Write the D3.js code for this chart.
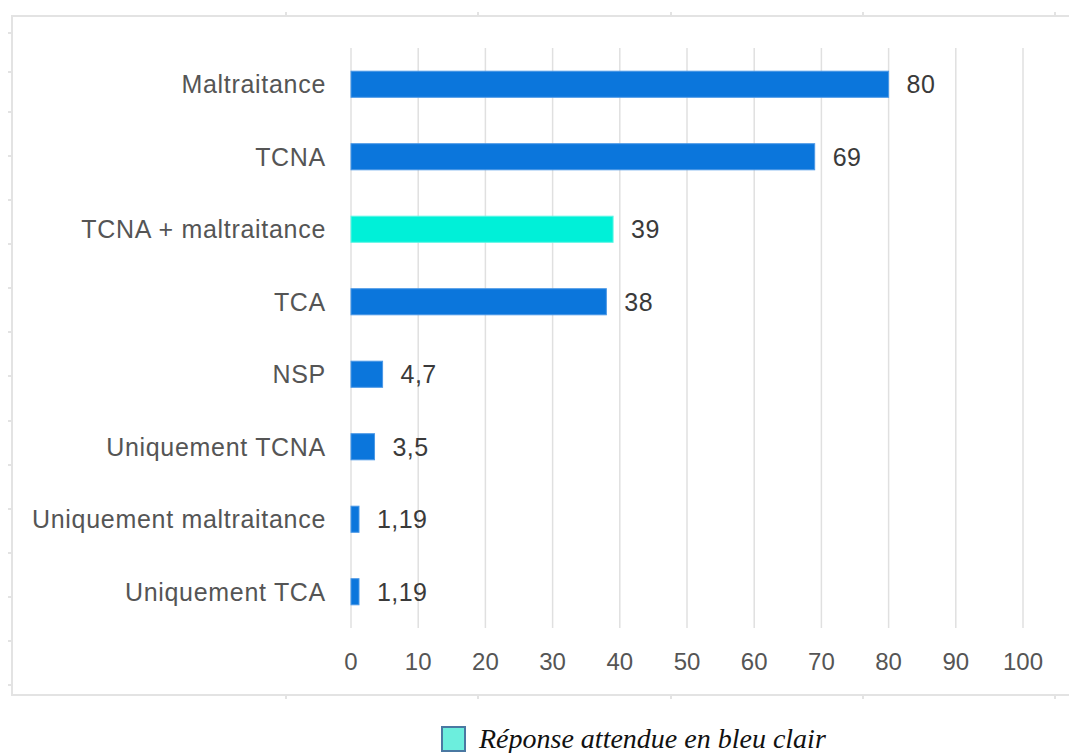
<!DOCTYPE html>
<html lang="fr">
<head>
<meta charset="UTF-8"/>
<title>Réponses</title>
<script src="https://cdn.jsdelivr.net/npm/d3@7"></script>
<style>
body { margin: 0; background: #fff; }
text { font-family: "Liberation Sans", Arial, sans-serif; fill: #555; }
.grid line { stroke: #e0e0e0; stroke-width: 1.5px; }
.frame { fill: none; stroke: #e3e3e3; stroke-width: 2px; }
</style>
</head>
<body>
<svg id="viz"></svg>
<script>
var width = 1069, height = 753;

// data
var categories = ["Maltraitance", "TCNA", "TCNA + maltraitance", "TCA", "NSP",
                  "Uniquement TCNA", "Uniquement maltraitance", "Uniquement TCA"];
var values = [80, 69, 39, 38, 4.7, 3.5, 1.19, 1.19];
var valueLabels = ["80", "69", "39", "38", "4,7", "3,5", "1,19", "1,19"];
var expected = ["TCNA + maltraitance"];
var xTicks = [0, 10, 20, 30, 40, 50, 60, 70, 80, 90, 100];
// little marks on the outer frame (pixel positions of the original screenshot frame)
var frameLeftTicks = [33, 72, 112, 156, 200, 244, 288, 332, 376, 421, 465, 509, 553, 597, 641, 685];
var frameTopTicks = [286, 478, 671, 863, 1055];
var frameBottomTicks = [286, 478, 671, 863, 1055];
var legendText = "Réponse attendue en bleu clair";

var svg = d3.select("#viz").attr("width", width).attr("height", height);

// outer frame
svg.append("path").attr("class", "frame")
	.attr("d", "M1069,16 H12 V695 H1069");
svg.selectAll(".fl").data(frameLeftTicks).enter().append("line")
	.attr("x1", 8).attr("x2", 12).attr("y1", d => d).attr("y2", d => d)
	.attr("stroke", "#e3e3e3").attr("stroke-width", 2);
svg.selectAll(".ft").data(frameTopTicks).enter().append("line")
	.attr("x1", d => d).attr("x2", d => d).attr("y1", 12).attr("y2", 16)
	.attr("stroke", "#e3e3e3").attr("stroke-width", 2);
svg.selectAll(".fb").data(frameBottomTicks).enter().append("line")
	.attr("x1", d => d).attr("x2", d => d).attr("y1", 695).attr("y2", 699)
	.attr("stroke", "#e3e3e3").attr("stroke-width", 2);

var x = d3.scaleLinear().domain([0, 100]).range([351, 1023]);
var y = d3.scaleBand().domain(categories).range([48, 628]).paddingInner(0.64).paddingOuter(0.32);

// gridlines
svg.append("g").attr("class", "grid")
	.selectAll("line").data(xTicks).enter().append("line")
	.attr("x1", d => x(d)).attr("x2", d => x(d))
	.attr("y1", 48).attr("y2", 628);

// x tick labels
svg.append("g").selectAll("text").data(xTicks).enter().append("text")
	.attr("x", d => x(d)).attr("y", 670)
	.attr("text-anchor", "middle")
	.style("font-size", "24px")
	.text(d => d);

// category labels
svg.append("g").selectAll("text").data(categories).enter().append("text")
	.attr("x", 326).attr("y", d => y(d) + y.bandwidth() / 2)
	.attr("dy", "0.36em")
	.attr("text-anchor", "end")
	.style("font-size", "25px")
	.style("letter-spacing", "0.7px")
	.text(d => d);

// bars
svg.append("g").selectAll("rect").data(categories).enter().append("rect")
	.attr("x", x(0))
	.attr("y", d => y(d))
	.attr("width", (d, i) => x(values[i]) - x(0))
	.attr("height", y.bandwidth())
	.attr("fill", d => expected.indexOf(d) >= 0 ? "#00f0d8" : "#0b76dc")
	.attr("stroke", d => expected.indexOf(d) >= 0 ? "#5ff5e4" : "#4b98e6")
	.attr("stroke-width", 1);

// value labels
svg.append("g").selectAll("text").data(categories).enter().append("text")
	.attr("x", (d, i) => x(values[i]) + 18)
	.attr("y", d => y(d) + y.bandwidth() / 2)
	.attr("dy", "0.36em")
	.style("font-size", "25px")
	.style("letter-spacing", "0.4px")
	.style("fill", "#3a3a3a")
	.text((d, i) => valueLabels[i]);

// legend
svg.append("rect")
	.attr("x", 442).attr("y", 727).attr("width", 23).attr("height", 24)
	.attr("fill", "#6ceedd").attr("stroke", "#4a78a2").attr("stroke-width", 2);
svg.append("text")
	.attr("x", 479).attr("y", 748)
	.style("font-family", "'Liberation Serif', 'Times New Roman', serif")
	.style("font-style", "italic")
	.style("font-size", "28px")
	.style("fill", "#111")
	.text(legendText);
</script>
</body>
</html>
